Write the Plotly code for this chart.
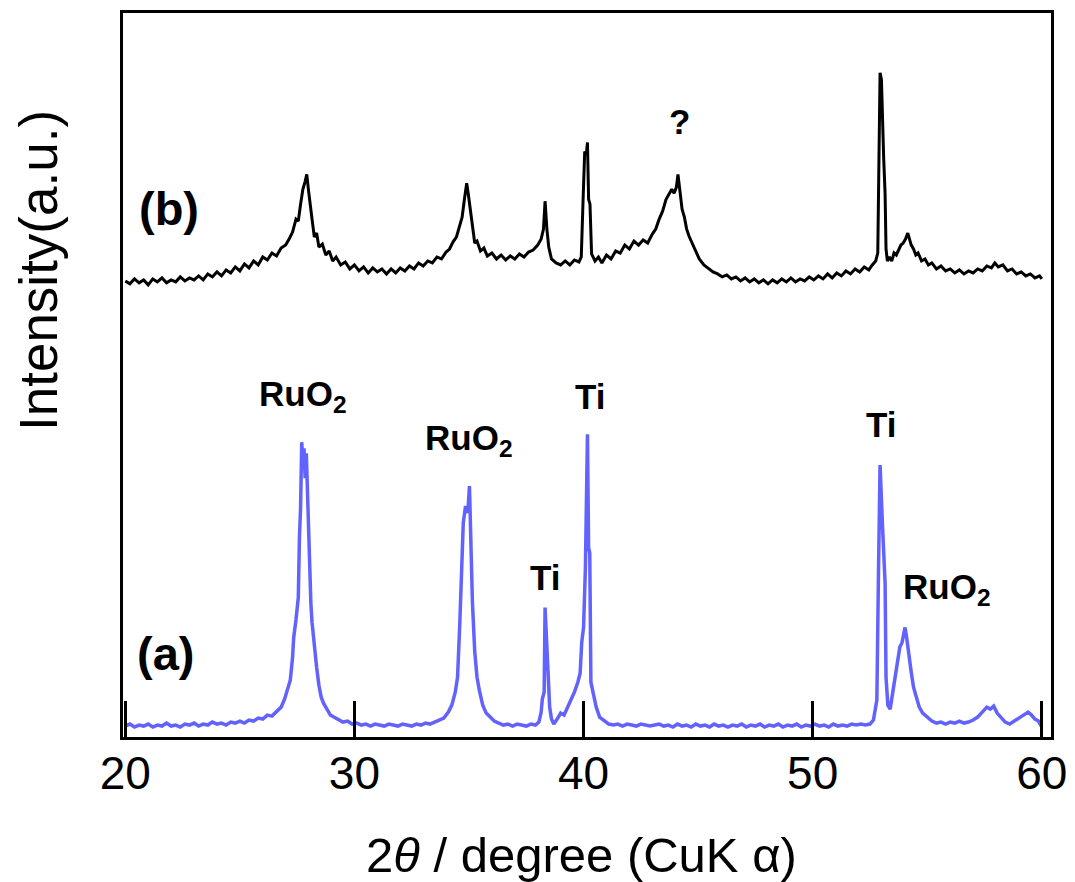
import plotly.graph_objects as go

# ---- data (2theta in degrees, intensity in a.u.) ----
a_x = [20.0, 20.2, 20.4, 20.6, 20.8, 21.0, 21.2, 21.4, 21.6, 21.8, 22.0, 22.2, 22.4, 22.6, 22.8,
       23.0, 23.2, 23.4, 23.6, 23.8, 24.0, 24.2, 24.4, 24.6, 24.8, 25.0, 25.2, 25.4, 25.6, 25.8,
       26.0, 26.2, 26.4, 26.6, 26.8, 26.95, 27.1, 27.2, 27.3, 27.35, 27.45, 27.55, 27.6, 27.65,
       27.7, 27.75, 27.8, 27.85, 27.9, 27.95, 28.0, 28.05, 28.1, 28.15, 28.25, 28.35, 28.45,
       28.55, 28.65, 28.8, 28.95, 29.1, 29.3, 29.5, 29.7, 29.9, 30.1, 30.3, 30.5, 30.7, 30.9,
       31.1, 31.3, 31.5, 31.7, 31.9, 32.1, 32.3, 32.5, 32.7, 32.9, 33.1, 33.3, 33.5, 33.7, 33.9,
       34.1, 34.25, 34.4, 34.5, 34.6, 34.7, 34.75, 34.85, 34.95, 35.02, 35.08, 35.15, 35.25,
       35.35, 35.45, 35.6, 35.75, 35.9, 36.1, 36.3, 36.5, 36.7, 36.9, 37.1, 37.3, 37.5, 37.7,
       37.9, 38.05, 38.15, 38.2, 38.28, 38.32, 38.38, 38.45, 38.52, 38.6, 38.7, 38.85, 39.0,
       39.15, 39.3, 39.45, 39.6, 39.75, 39.85, 39.92, 40.0, 40.08, 40.17, 40.22, 40.27, 40.32,
       40.42, 40.55, 40.7, 40.9, 41.1, 41.3, 41.5, 41.7, 41.9, 42.1, 42.3, 42.5, 42.7, 42.9,
       43.1, 43.3, 43.5, 43.7, 43.9, 44.1, 44.3, 44.5, 44.7, 44.9, 45.1, 45.3, 45.5, 45.7, 45.9,
       46.1, 46.3, 46.5, 46.7, 46.9, 47.1, 47.3, 47.5, 47.7, 47.9, 48.1, 48.3, 48.5, 48.7, 48.9,
       49.1, 49.3, 49.5, 49.7, 49.9, 50.1, 50.3, 50.5, 50.7, 50.9, 51.1, 51.3, 51.5, 51.7, 51.9,
       52.1, 52.3, 52.5, 52.65, 52.8, 52.87, 52.94, 53.05, 53.12, 53.16, 53.2, 53.28, 53.38,
       53.5, 53.6, 53.7, 53.8, 53.9, 53.98, 54.03, 54.1, 54.2, 54.3, 54.4, 54.5, 54.65, 54.8,
       55.0, 55.2, 55.4, 55.6, 55.8, 56.0, 56.2, 56.4, 56.6, 56.8, 57.0, 57.2, 57.4, 57.6, 57.75,
       57.9, 58.05, 58.2, 58.4, 58.6, 58.8, 59.0, 59.2, 59.4, 59.55, 59.7, 59.85, 60.0]
a_y = [11, 13, 10, 12, 11, 13, 10, 12, 11, 14, 11, 12, 10, 13, 12,
       14, 11, 13, 12, 15, 13, 14, 12, 15, 14, 16, 14, 17, 16, 19,
       18, 22, 21, 26, 30, 38, 48, 57, 80, 100, 118, 140, 200, 230,
       296, 275, 290, 260, 285, 240, 204, 160, 134, 115, 90, 70, 52,
       40, 34, 28, 22, 20, 17, 15, 16, 13, 14, 12, 13, 11, 13,
       12, 11, 13, 12, 11, 13, 12, 11, 13, 12, 14, 13, 15, 17, 19,
       25, 32, 45, 60, 115, 190, 215, 232, 225, 252, 200, 135, 86,
       60, 47, 32, 24, 20, 16, 14, 12, 13, 11, 13, 12, 11, 13,
       12, 15, 25, 38, 45, 130, 100, 70, 30, 18, 13, 18, 24,
       22, 30, 36, 45, 55, 64, 95, 110, 170, 304, 190, 185, 55,
       42, 30, 20, 16, 13, 12, 13, 11, 13, 12, 11, 13, 12, 11,
       12, 13, 11, 12, 10, 13, 11, 12, 10, 13, 11, 12, 10, 13, 11,
       12, 10, 12, 11, 13, 10, 12, 11, 13, 10, 12, 11, 13, 10, 12,
       11, 13, 10, 12, 11, 13, 11, 12, 10, 13, 11, 12, 11, 13, 12,
       13, 12, 13, 17, 37, 164, 273, 210, 165, 154, 60, 32, 28,
       45, 57, 72, 90, 95, 108, 110, 100, 80, 65, 50, 42, 30, 24,
       20, 16, 14, 15, 13, 15, 14, 16, 14, 15, 17, 20, 25, 30, 28,
       31, 24, 20, 15, 13, 16, 18, 21, 25, 22, 18, 16, 10]

b_x = [20.0, 20.2, 20.4, 20.6, 20.8, 21.0, 21.2, 21.4, 21.6, 21.8, 22.0, 22.2, 22.4, 22.6, 22.8,
       23.0, 23.2, 23.4, 23.6, 23.8, 24.0, 24.2, 24.4, 24.6, 24.8, 25.0, 25.2, 25.4, 25.6, 25.8,
       26.0, 26.2, 26.4, 26.6, 26.8, 27.0, 27.15, 27.3, 27.45, 27.55, 27.65, 27.75, 27.85, 27.92,
       28.0, 28.08, 28.15, 28.25, 28.35, 28.45, 28.6, 28.75, 28.9, 29.05, 29.2, 29.4, 29.6, 29.8,
       30.0, 30.2, 30.4, 30.6, 30.8, 31.0, 31.2, 31.4, 31.6, 31.8, 32.0, 32.2, 32.4, 32.6, 32.8,
       33.0, 33.2, 33.4, 33.6, 33.8, 34.0, 34.15, 34.3, 34.45, 34.6, 34.7, 34.8, 34.9, 34.97,
       35.05, 35.15, 35.25, 35.35, 35.5, 35.65, 35.8, 36.0, 36.2, 36.4, 36.6, 36.8, 37.0, 37.2,
       37.4, 37.6, 37.8, 38.0, 38.15, 38.25, 38.32, 38.4, 38.48, 38.6, 38.8, 39.0, 39.2, 39.4,
       39.6, 39.8, 39.9, 39.98, 40.05, 40.12, 40.17, 40.22, 40.28, 40.35, 40.5, 40.65, 40.8,
       41.0, 41.2, 41.4, 41.6, 41.8, 42.0, 42.2, 42.4, 42.6, 42.8, 43.0, 43.15, 43.3, 43.45,
       43.6, 43.75, 43.85, 43.95, 44.05, 44.12, 44.2, 44.3, 44.4, 44.5, 44.6, 44.75, 44.9, 45.05,
       45.25, 45.45, 45.65, 45.85, 46.05, 46.25, 46.45, 46.65, 46.85, 47.05, 47.25, 47.45, 47.65,
       47.85, 48.05, 48.25, 48.45, 48.65, 48.85, 49.05, 49.25, 49.45, 49.65, 49.85, 50.05, 50.25,
       50.45, 50.65, 50.85, 51.05, 51.25, 51.45, 51.65, 51.85, 52.05, 52.25, 52.45, 52.6, 52.75,
       52.84, 52.9, 52.94, 53.0, 53.06, 53.1, 53.16, 53.2, 53.26, 53.35, 53.45, 53.55, 53.65,
       53.75, 53.85, 53.95, 54.05, 54.15, 54.22, 54.3, 54.4, 54.5, 54.6, 54.75, 54.9, 55.05, 55.2,
       55.4, 55.6, 55.8, 56.0, 56.2, 56.4, 56.6, 56.8, 57.0, 57.2, 57.4, 57.6, 57.8, 57.95, 58.1,
       58.3, 58.5, 58.7, 58.9, 59.1, 59.3, 59.5, 59.7, 59.9, 60.0]
b_y = [458, 455, 460, 456, 459, 454, 460, 457, 461, 456, 459, 457, 462, 458, 461,
       459, 463, 459, 465, 462, 467, 463, 469, 466, 472, 468, 475, 471, 478, 474,
       482, 479, 486, 483, 491, 494, 500, 507, 520, 518, 535, 550, 558, 565,
       548, 530, 520, 502, 506, 492, 495, 484, 488, 478, 482, 474, 477, 470,
       474, 468, 472, 466, 471, 467, 470, 465, 470, 466, 471, 468, 473, 470, 476,
       473, 478, 476, 482, 480, 487, 490, 497, 502, 514, 522, 540, 556, 545,
       530, 512, 496, 498, 488, 491, 483, 486, 480, 484, 479, 483, 480, 485,
       482, 487, 489, 494, 500, 510, 538, 510, 492, 480, 476, 474, 478, 474,
       479, 477, 482, 540, 588, 585, 597, 540, 535, 485, 478, 482, 476,
       484, 480, 488, 486, 494, 490, 498, 494, 499, 496, 505, 510, 520, 528,
       540, 546, 550, 546, 552, 565, 548, 530, 522, 510, 503, 495, 488, 480,
       474, 470, 467, 465, 462, 464, 460, 462, 458, 461, 457, 460, 456,
       459, 455, 459, 456, 460, 457, 461, 457, 460, 458, 462, 459, 463,
       460, 465, 461, 466, 463, 468, 465, 470, 467, 472, 469, 474, 478,
       486, 600, 667, 660, 600, 580, 545, 490, 478, 482, 478, 486, 484,
       490, 494, 496, 500, 506, 500, 494, 490, 484, 486, 478, 480, 474, 476,
       470, 473, 468, 470, 466, 469, 465, 468, 466, 470, 468, 473, 471, 476, 472,
       474, 468, 470, 465, 467, 463, 465, 461, 463, 460]

x_ticks = [20, 30, 40, 50, 60]
x_tick_labels = ["20", "30", "40", "50", "60"]

peak_labels = ["RuO<sub>2</sub>", "RuO<sub>2</sub>", "Ti", "Ti", "Ti", "RuO<sub>2</sub>", "?"]
peak_label_x = [27.75, 35.0, 38.3, 40.3, 53.0, 55.85, 44.2]
peak_label_y = [342, 298, 160, 342, 314, 149, 618]

FONT = "Liberation Sans, Arial, sans-serif"

fig = go.Figure()
fig.add_trace(go.Scatter(x=a_x, y=a_y, mode="lines",
                         line=dict(color="#6262FF", width=3.5), showlegend=False))
fig.add_trace(go.Scatter(x=b_x, y=b_y, mode="lines",
                         line=dict(color="black", width=3), showlegend=False))

for t, x, y in zip(peak_labels, peak_label_x, peak_label_y):
    fig.add_annotation(x=x, y=y, xref="x", yref="y", text="<b>" + t + "</b>",
                       showarrow=False, xanchor="center", yanchor="middle",
                       font=dict(family=FONT, size=35, color="black"))

fig.add_annotation(x=21.9, y=531, xref="x", yref="y", text="<b>(b)</b>", showarrow=False,
                   font=dict(family=FONT, size=47, color="black"))
fig.add_annotation(x=21.75, y=84, xref="x", yref="y", text="<b>(a)</b>", showarrow=False,
                   font=dict(family=FONT, size=47, color="black"))

# plot area in figure pixels: x 115..1043, y 2..729 (page has an 8px body margin)
fig.add_annotation(x=-0.0916, y=0.645, xref="paper", yref="paper", text="Intensity(a.u.)",
                   textangle=-90, showarrow=False, xanchor="center", yanchor="middle",
                   font=dict(family=FONT, size=53, color="black"))
fig.add_annotation(x=0.4946, y=-0.1623, xref="paper", yref="paper",
                   text="2<i>θ</i> / degree (CuK α)", showarrow=False,
                   xanchor="center", yanchor="middle",
                   font=dict(family=FONT, size=49, color="black"))

fig.update_xaxes(range=[19.9, 60.4], tickvals=x_ticks, ticktext=x_tick_labels,
                 ticks="inside", ticklen=36, tickwidth=3, tickcolor="black",
                 ticklabeloverflow="allow", ticklabelstandoff=-6,
                 showline=True, linewidth=3, linecolor="black", mirror=True,
                 showgrid=False, zeroline=False,
                 tickfont=dict(family=FONT, size=46, color="black"))
fig.update_yaxes(range=[0, 727], showticklabels=False, ticks="",
                 showline=True, linewidth=3, linecolor="black", mirror=True,
                 showgrid=False, zeroline=False)

fig.update_layout(width=1067, height=874,
                  margin=dict(l=115, r=24, t=2, b=145),
                  plot_bgcolor="white", paper_bgcolor="white")

fig.write_html("out.html")
